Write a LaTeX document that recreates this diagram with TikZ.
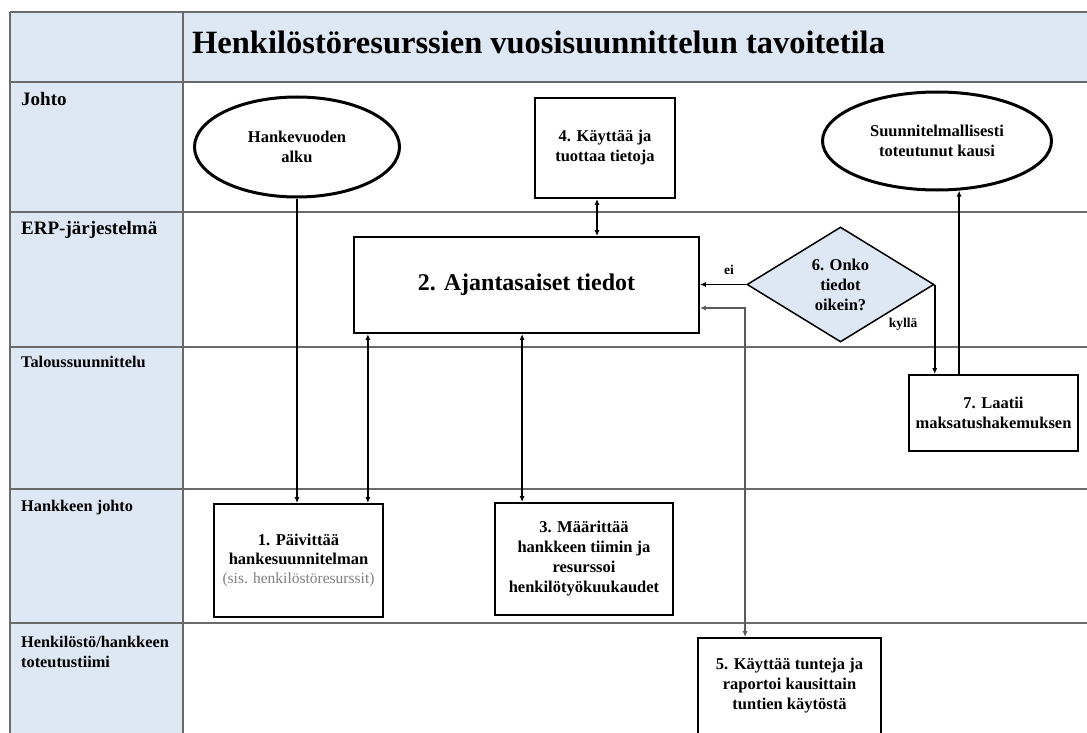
\documentclass[tikz,border=0pt]{standalone}
\usepackage{fontspec}
\setmainfont{Liberation Serif}
\usetikzlibrary{shapes.geometric,arrows.meta}
\definecolor{lanefill}{HTML}{DEE8F4}
\definecolor{gridline}{HTML}{6A6A6A}
\definecolor{notegray}{HTML}{7F7F7F}
\definecolor{returnline}{HTML}{5A5A5A}
\newcommand{\taskfont}{\bfseries\fontsize{16.5}{20}\selectfont}
\newcommand{\lanebigfont}{\bfseries\fontsize{19}{22}\selectfont}
\newcommand{\lanesmallfont}{\bfseries\fontsize{16.3}{19.5}\selectfont}
\begin{document}
\begin{tikzpicture}[x=1pt,y=-1pt,
  grid/.style={draw=gridline,line width=2.6pt},
  task/.style={draw,line width=1.8pt,align=center,font=\taskfont,inner sep=2pt},
  terminal/.style={ellipse,draw,line width=3pt,align=center,font=\taskfont,inner sep=0pt},
  decision/.style={diamond,draw,line width=1.5pt,fill=lanefill,align=center,
    font=\taskfont,inner sep=0pt,shape aspect=1.63},
  flow/.style={line width=1.7pt,-{Latex[length=6pt,width=5pt]}},
  flowboth/.style={line width=1.7pt,{Latex[length=6pt,width=5pt]}-{Latex[length=6pt,width=5pt]}},
  lanelabel/.style={anchor=north west,inner sep=0pt,align=left},
  branch/.style={font=\bfseries\fontsize{13.5}{16}\selectfont,inner sep=0pt},
]
\clip (0,0) rectangle (1087,733);

% background fills of the header row and the lane column
\fill[lanefill] (10,12) rectangle (1087,82);
\fill[lanefill] (10,82) rectangle (183,733);

% grid of the swimlane table
\draw[grid] (10,12) -- (1087,12);
\draw[grid] (10,82) -- (1087,82);
\draw[grid] (10,212) -- (1087,212);
\draw[grid] (10,347) -- (1087,347);
\draw[grid] (10,489) -- (1087,489);
\draw[grid] (10,623) -- (1087,623);
\draw[grid] (10,12) -- (10,733);
\draw[grid] (183,12) -- (183,733);

% title and lane labels
\node[anchor=west,inner sep=0pt,font=\bfseries\fontsize{32.5}{36}\selectfont] (title) at (192,42)
  {Henkilöstöresurssien vuosisuunnittelun tavoitetila};
\node[lanelabel,font=\lanebigfont] (l1) at (21,92) {Johto};
\node[lanelabel,font=\lanebigfont] (l2) at (21,221) {ERP-järjestelmä};
\node[lanelabel,font=\lanesmallfont] (l3) at (21,356) {Taloussuunnittelu};
\node[lanelabel,font=\lanesmallfont] (l4) at (21,500) {Hankkeen johto};
\node[lanelabel,font=\lanesmallfont] (l5) at (21,636) {Henkilöstö/hankkeen\\toteutustiimi};

% process nodes
\node[terminal,minimum width=205pt,minimum height=100pt] (ha) at (297,147) {Hankevuoden\\alku};
\node[task,minimum width=140pt,minimum height=100pt] (b4) at (605,148) {4. Käyttää ja\\tuottaa tietoja};
\node[terminal,minimum width=229pt,minimum height=98pt] (se) at (937,141) {Suunnitelmallisesti\\toteutunut kausi};
\node[task,minimum width=345pt,minimum height=96pt,font=\bfseries\fontsize{24}{28}\selectfont] (b2) at (526.5,285) {2. Ajantasaiset tiedot};
\node[decision,minimum width=187pt,minimum height=115pt] (d6) at (840.5,284.5) {6. Onko\\tiedot\\oikein?};
\node[task,minimum width=169pt,minimum height=76pt] (b7) at (993.5,413) {7. Laatii\\maksatushakemuksen};
\node[task,minimum width=169pt,minimum height=113pt,font=\bfseries\fontsize{16.5}{19}\selectfont] (b1) at (298.5,560.5)
  {1. Päivittää\\hankesuunnitelman\\{\mdseries\color{notegray}\fontsize{15.5}{19}\selectfont(sis. henkilöstöresurssit)}};
\node[task,minimum width=178pt,minimum height=112pt] (b3) at (584,559) {3. Määrittää\\hankkeen tiimin ja\\resurssoi\\henkilötyökuukaudet};
\node[task,minimum width=183pt,minimum height=96pt] (b5) at (789.5,686) {5. Käyttää tunteja ja\\raportoi kausittain\\tuntien käytöstä};

% connectors
\draw[flow] (ha.south) -- (ha.south |- b1.north);
\draw[flowboth] ([xshift=-16pt]b1.north east) -- ([xshift=-16pt]b1.north east |- b2.south);
\draw[flowboth] ([xshift=28pt]b3.north west) -- ([xshift=28pt]b3.north west |- b2.south);
\draw[flowboth] ([xshift=-8pt]b4.south) -- ([xshift=-8pt]b4.south |- b2.north);
\draw[flow] (d6.west) -- (d6.west -| b2.east);
\draw[flow] (d6.east) -- (d6.east |- b7.north);
\draw[flow] ([xshift=51pt]b7.north west) -- ([xshift=51pt,yshift=1pt]b7.north west |- se.south);
\draw[flowboth,draw=returnline,line width=2.2pt] ([yshift=-23pt]b2.east) -| ([xshift=48pt]b5.north west);

% branch labels of the decision
\node[branch] (ei) at (729,270) {ei};
\node[branch] (kylla) at (903,324) {kyllä};
\end{tikzpicture}
\end{document}
